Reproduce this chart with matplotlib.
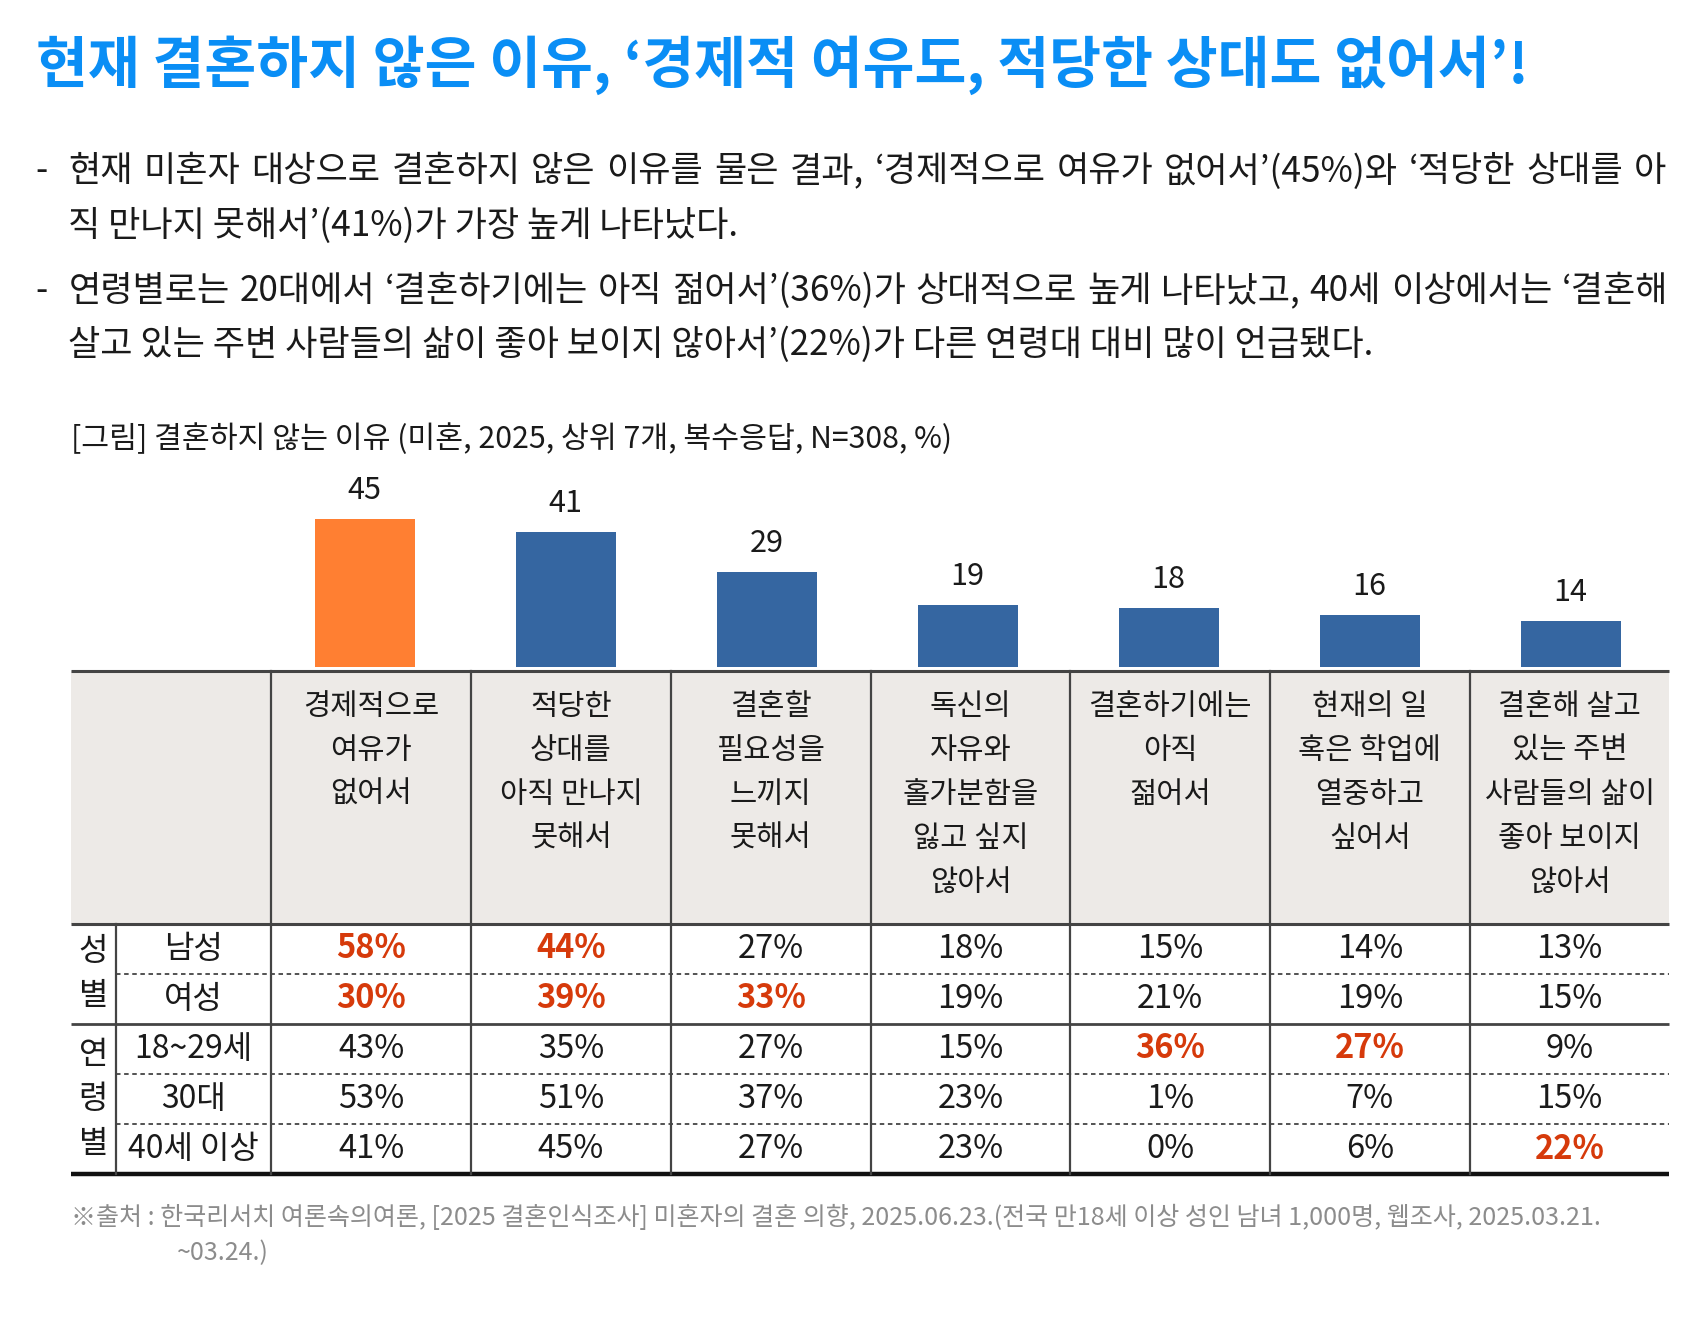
import matplotlib
matplotlib.use('Agg')
import matplotlib.pyplot as plt

plt.rcParams['font.family'] = ['Noto Sans CJK KR', 'DejaVu Sans']

# ---------------- data ----------------
title = "현재 결혼하지 않은 이유, ‘경제적 여유도, 적당한 상대도 없어서’!"
bullet1 = ["현재 미혼자 대상으로 결혼하지 않은 이유를 물은 결과, ‘경제적으로 여유가 없어서’(45%)와 ‘적당한 상대를 아",
           "직 만나지 못해서’(41%)가 가장 높게 나타났다."]
bullet2 = ["연령별로는 20대에서 ‘결혼하기에는 아직 젊어서’(36%)가 상대적으로 높게 나타났고, 40세 이상에서는 ‘결혼해",
           "살고 있는 주변 사람들의 삶이 좋아 보이지 않아서’(22%)가 다른 연령대 대비 많이 언급됐다."]
subtitle = "[그림] 결혼하지 않는 이유 (미혼, 2025, 상위 7개, 복수응답, N=308, %)"
categories = ["경제적으로\n여유가\n없어서",
              "적당한\n상대를\n아직 만나지\n못해서",
              "결혼할\n필요성을\n느끼지\n못해서",
              "독신의\n자유와\n홀가분함을\n잃고 싶지\n않아서",
              "결혼하기에는\n아직\n젊어서",
              "현재의 일\n혹은 학업에\n열중하고\n싶어서",
              "결혼해 살고\n있는 주변\n사람들의 삶이\n좋아 보이지\n않아서"]
totals = [45, 41, 29, 19, 18, 16, 14]
row_labels = ["남성", "여성", "18~29세", "30대", "40세 이상"]
group_labels = ["성별", "연령별"]
group_sizes = [2, 3]
male = [58, 44, 27, 18, 15, 14, 13]
female = [30, 39, 33, 19, 21, 19, 15]
age_20s = [43, 35, 27, 15, 36, 27, 9]
age_30s = [53, 51, 37, 23, 1, 7, 15]
age_40plus = [41, 45, 27, 23, 0, 6, 22]
highlight = [(0, 0), (0, 1), (1, 0), (1, 1), (1, 2), (2, 4), (2, 5), (4, 6)]
source1 = "※출처 : 한국리서치 여론속의여론, [2025 결혼인식조사] 미혼자의 결혼 의향, 2025.06.23.(전국 만18세 이상 성인 남녀 1,000명, 웹조사, 2025.03.21."
source2 = "~03.24.)"

# ---------------- layout ----------------
W, H = 1568.0, 1220.0
FW = 1702.0
fig = plt.figure(figsize=(17.02, 13.24), dpi=100)
renderer = fig.canvas.get_renderer()

TITLE_BLUE = '#0A8EF5'
ORANGE = '#FF7F32'
BLUE = '#3566A1'
GRAY_BG = '#EDEAE7'
RED = '#D63A0B'
LINE = '#444444'
TXT = '#1a1a1a'

col_left = 250.0
col_w = 184.0
ncol = len(categories)
table_right = col_left + col_w * ncol
table_left = 65.0
baseline = 615.0
px_per_unit = 3.044

# bar axes (bar slots slightly wider than table columns, as in the reference)
bar_first, bar_last = 336.0, 1447.0
slot = (bar_last - bar_first) / (ncol - 1)
ymax = 50
axb = fig.add_axes([(bar_first - slot / 2) / W, 1 - baseline / H, slot * ncol / W, px_per_unit * ymax / H])
xs = list(range(ncol))
colors = [ORANGE] + [BLUE] * (ncol - 1)
axb.bar(xs, totals, width=92.0 / slot, color=colors)
axb.set_xlim(-0.5, ncol - 0.5)
axb.set_ylim(0, ymax)
axb.axis('off')
for x, v in zip(xs, totals):
    axb.annotate(str(v), (x, v), xytext=(0, 26 * (FW / W) * 0.72), textcoords='offset points',
                 ha='center', va='center', fontsize=22, color=TXT)

# overlay axes in "shown" pixel coordinates
ov = fig.add_axes([0, 0, 1, 1])
ov.set_xlim(0, W)
ov.set_ylim(H, 0)
ov.axis('off')


def width_of(t):
    return t.get_window_extent(renderer).width * W / FW


def fit(t, target):
    w = width_of(t)
    t.set_fontsize(t.get_fontsize() * target / w)
    return t.get_fontsize()


# title
tt = ov.text(33, 60, title, fontsize=38, fontweight='bold', color=TITLE_BLUE, ha='left', va='center')
fit(tt, 1375)

# bullets
ref = ov.text(63, 208, bullet1[1], fontsize=24, color=TXT, ha='left', va='center')
body_fs = fit(ref, 617)


def justified(line, x0, x1, y, fs):
    words = line.split(' ')
    ts = [ov.text(0, y, w, fontsize=fs, color=TXT, ha='left', va='center') for w in words]
    ws = [width_of(t) for t in ts]
    gap = (x1 - x0 - sum(ws)) / (len(ws) - 1)
    x = x0
    for t, w in zip(ts, ws):
        t.set_x(x)
        x += w + gap


justified(bullet1[0], 63, 1535, 158, body_fs)
justified(bullet2[0], 63, 1537, 268, body_fs)
ov.text(63, 318, bullet2[1], fontsize=body_fs, color=TXT, ha='left', va='center')
for y in (158, 268):
    ov.text(33, y, '-', fontsize=body_fs, color=TXT, ha='left', va='center')

# subtitle
st = ov.text(65, 405, subtitle, fontsize=20, color=TXT, ha='left', va='center')
fit(st, 812)

# table header background
header_top, header_bot = 618.0, 851.0
ov.add_patch(plt.Rectangle((table_left, header_top), table_right - table_left, header_bot - header_top,
                           facecolor=GRAY_BG, edgecolor='none', zorder=0))

# header text
for i, cat in enumerate(categories):
    cx = col_left + col_w * (i + 0.5)
    for j, ln in enumerate(cat.split('\n')):
        ov.text(cx, 651 + 40.5 * j, ln, fontsize=21.3, color=TXT, ha='center', va='center')

# rows
row_top = header_bot
row_h = (1082.0 - header_bot) / len(row_labels)
rows = [male, female, age_20s, age_30s, age_40plus]
for r, (lab, vals) in enumerate(zip(row_labels, rows)):
    cy = row_top + row_h * (r + 0.5)
    ov.text(178.5, cy, lab, fontsize=23, color=TXT, ha='center', va='center')
    for i, v in enumerate(vals):
        cx = col_left + col_w * (i + 0.5)
        hl = (r, i) in highlight
        ov.text(cx, cy, f"{v}%", fontsize=23.5, color=RED if hl else TXT,
                fontweight='black' if hl else 'normal', ha='center', va='center')

# group labels (vertical)
start = 0
for g, n in zip(group_labels, group_sizes):
    top = row_top + row_h * start
    bot = row_top + row_h * (start + n)
    mid = (top + bot) / 2
    k = len(g)
    for c, ch in enumerate(g):
        ov.text(86, mid + (c - (k - 1) / 2) * 41, ch, fontsize=23, color=TXT, ha='center', va='center')
    start += n

# lines
ov.plot([table_left, table_right], [header_top, header_top], color=LINE, lw=2.2, solid_capstyle='butt')
ov.plot([table_left, table_right], [header_bot, header_bot], color=LINE, lw=2.2, solid_capstyle='butt')
ov.plot([table_left, table_right], [1082, 1082], color='#111111', lw=3.2, solid_capstyle='butt')
start = 0
for n in group_sizes[:-1]:
    start += n
    yy = row_top + row_h * start
    ov.plot([table_left, table_right], [yy, yy], color=LINE, lw=2.0, solid_capstyle='butt')
for r in range(1, len(row_labels)):
    if r in (group_sizes[0],):
        continue
    yy = row_top + row_h * r
    ov.plot([107, table_right], [yy, yy], color=LINE, lw=1.3, linestyle=(0, (2.5, 2)))
for i in range(ncol):
    xx = col_left + col_w * i
    ov.plot([xx, xx], [header_top, 1082], color=LINE, lw=1.6)
ov.plot([107, 107], [header_bot, 1082], color=LINE, lw=1.6)

# source
s1 = ov.text(65, 1122, source1, fontsize=17, color='#8C8C8C', ha='left', va='center')
sfs = fit(s1, 1410)
ov.text(163, 1155, source2, fontsize=sfs, color='#8C8C8C', ha='left', va='center')

fig.savefig('out.png', dpi=100)
